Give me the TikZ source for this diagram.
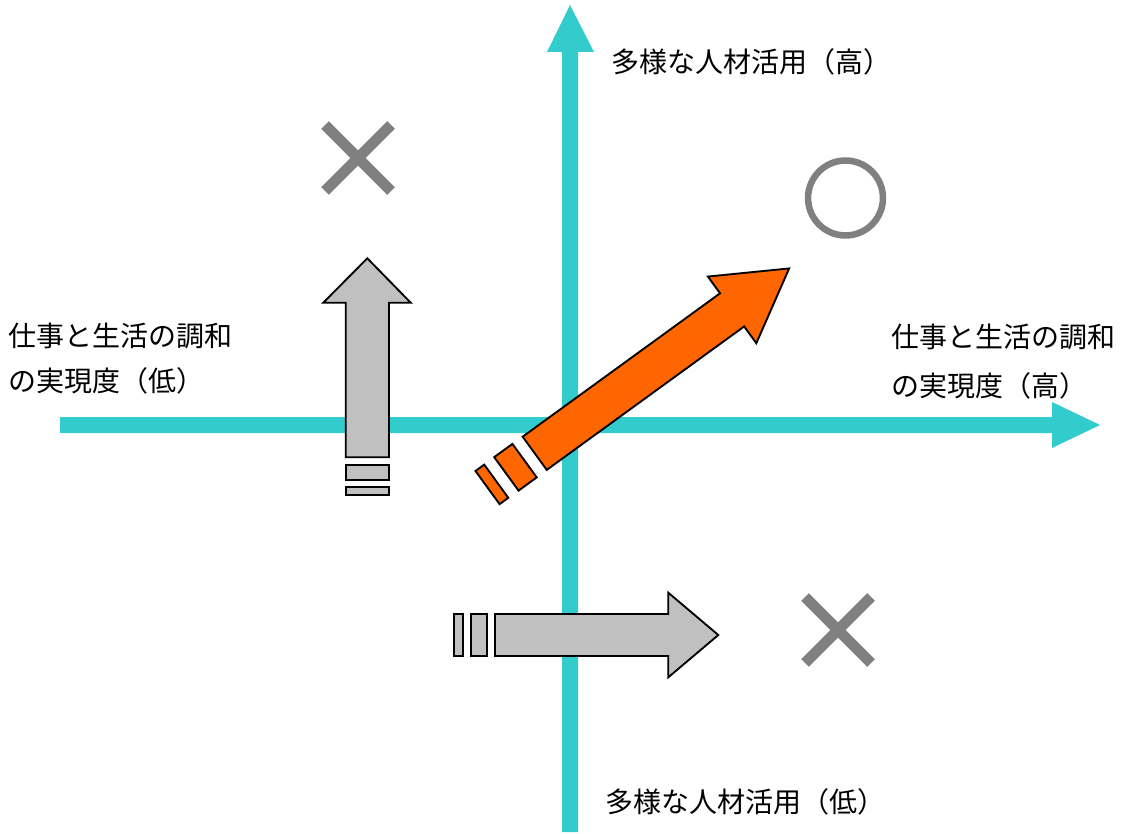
\documentclass[tikz,border=0pt]{standalone}
\usepackage{fontspec}
\setmainfont{Noto Sans CJK JP}
\definecolor{axisc}{HTML}{33CCCC}
\definecolor{grayfill}{HTML}{C0C0C0}
\definecolor{orangefill}{HTML}{FF6600}
\definecolor{markc}{HTML}{808080}
\tikzset{
  axisshape/.style={fill=axisc, draw=none},
  grayarrow/.style={fill=grayfill, draw=black, line width=1.4pt, line join=miter},
  orangearrow/.style={fill=orangefill, draw=black, line width=1.4pt, line join=miter},
  markline/.style={draw=markc, line width=8.2pt, line cap=butt},
  markcircle/.style={draw=markc, line width=4.9pt},
  lbl/.style={anchor=west, inner sep=0pt, font=\fontsize{21}{25}\selectfont}
}
\begin{document}
\begin{tikzpicture}[x=0.75pt,y=-0.75pt]
\useasboundingbox (0,0) rectangle (1127,834);
% axes
\fill[axisshape] (60,417) -- (1052,417) -- (1052,402) -- (1100,425) -- (1052,448) -- (1052,433) -- (60,433) -- cycle;
\fill[axisshape] (562,832) -- (562,52) -- (547,52) -- (570,5) -- (594,52) -- (578,52) -- (578,832) -- cycle;
% labels
\node[lbl] (ytop) at (611,62) {多様な人材活用（高）};
\node[lbl] (ybot) at (605,802) {多様な人材活用（低）};
\node[lbl] (xl1) at (8,336) {仕事と生活の調和};
\node[lbl] (xl2) at (8,381) {の実現度（低）};
\node[lbl] (xr1) at (891,337) {仕事と生活の調和};
\node[lbl] (xr2) at (891,386) {の実現度（高）};
% marks
\draw[markline] (325,125) -- (391,191);
\draw[markline] (391,125) -- (325,191);
\draw[markline] (805,597) -- (871,663);
\draw[markline] (871,597) -- (805,663);
\draw[markcircle] (845.5,198) circle [radius=28.1pt];
% gray up arrow
\draw[grayarrow] (345.7,457.3) -- (345.7,302.7) -- (323.3,302.7) -- (367.3,258.3) -- (410.7,302.7) -- (389,302.7) -- (389,457.3) -- cycle;
\draw[grayarrow] (345.7,465) rectangle (389,480);
\draw[grayarrow] (345.7,486.7) rectangle (389,495);
% gray right arrow
\draw[grayarrow] (495,614) -- (668.3,614) -- (668.3,592.7) -- (718.3,635) -- (668.3,677.3) -- (668.3,656) -- (495,656) -- cycle;
\draw[grayarrow] (470.7,614) rectangle (487.3,656);
\draw[grayarrow] (454,614) rectangle (462.7,656);
% orange diagonal arrow
\begin{scope}[shift={(534.7,453.3)}, rotate=36]
\draw[orangearrow] (0,-20.5) -- (244,-20.5) -- (244,-41.2) -- (314.5,0) -- (244,41.2) -- (244,20.5) -- (0,20.5) -- cycle;
\draw[orangearrow] (-35,-20.7) rectangle (-12.5,20.7);
\draw[orangearrow] (-58.3,-20.5) rectangle (-47.5,20.5);
\end{scope}
\end{tikzpicture}
\end{document}
